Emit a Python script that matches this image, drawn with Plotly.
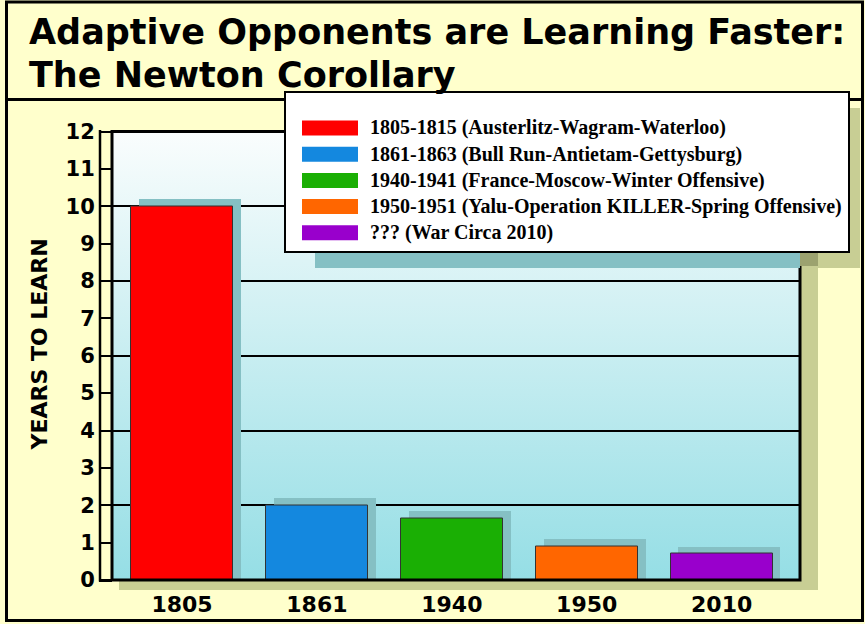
import base64
import plotly.graph_objects as go

W, H = 865, 624

# ---- data -------------------------------------------------------------
CATEGORIES = ["1805", "1861", "1940", "1950", "2010"]
YEARS_TO_LEARN = [10, 2, 1.65, 0.9, 0.7]
BAR_COLORS = ["#FF0000", "#1488DF", "#1AAF04", "#FF6600", "#9900CC"]
SERIES_LABELS = [
    "1805-1815 (Austerlitz-Wagram-Waterloo)",
    "1861-1863 (Bull Run-Antietam-Gettysburg)",
    "1940-1941 (France-Moscow-Winter Offensive)",
    "1950-1951 (Yalu-Operation KILLER-Spring Offensive)",
    "??? (War Circa 2010)",
]
Y_TICKS = list(range(0, 13))
GRID_LINES = [2, 4, 6, 8, 10]
TITLE_LINES = ["Adaptive Opponents are Learning Faster:", "The Newton Corollary"]
Y_TITLE = "YEARS TO LEARN"

# ---- styling ----------------------------------------------------------
BG = "#FFFFCC"
TAN = "#C8CE94"
TAN_DARK = "#9CA26F"
TEAL = "#85C0C4"
BAR_WIDTH = 0.756
SHADOW_DX = 0.058   # category units
SHADOW_DY = 0.2     # value units
HEAVY = dict(family="DejaVu Sans", color="black", weight="bold")

# plot area in pixels
PL, PR, PT, PB = 112, 800, 131.5, 580


def px(x):
    return x / W


def py(y):
    return 1 - y / H


def rect(x0, y0, x1, y1, fill, line_color=None, line_width=0, layer="below"):
    return dict(type="rect", xref="paper", yref="paper",
                x0=px(x0), x1=px(x1), y0=py(y1), y1=py(y0),
                fillcolor=fill, layer=layer,
                line=dict(color=line_color or "rgba(0,0,0,0)", width=line_width))


def hline(x0, x1, y, width, layer="below"):
    return dict(type="line", xref="paper", yref="paper",
                x0=px(x0), x1=px(x1), y0=py(y), y1=py(y), layer=layer,
                line=dict(color="black", width=width))


def vline(x, y0, y1, width, layer="below"):
    return dict(type="line", xref="paper", yref="paper",
                x0=px(x), x1=px(x), y0=py(y0), y1=py(y1), layer=layer,
                line=dict(color="black", width=width))


fig = go.Figure()

# drop shadows behind each bar (base axis, drawn first)
fig.add_trace(go.Bar(
    x=CATEGORIES, y=[v + SHADOW_DY for v in YEARS_TO_LEARN],
    width=BAR_WIDTH, offset=-BAR_WIDTH / 2 + SHADOW_DX,
    marker=dict(color=TEAL, line=dict(width=0)),
    hoverinfo="skip", showlegend=False, yaxis="y",
))
# the bars themselves, on the overlaying axis so they sit above the shadows
fig.add_trace(go.Bar(
    x=CATEGORIES, y=YEARS_TO_LEARN, width=BAR_WIDTH,
    marker=dict(color=BAR_COLORS, line=dict(color="#333333", width=1)),
    hoverinfo="skip", showlegend=False, yaxis="y2",
))

# vertical gradient for the plotting area
svg = ('<svg xmlns="http://www.w3.org/2000/svg" width="10" height="100" '
       'viewBox="0 0 10 100" preserveAspectRatio="none"><defs>'
       '<linearGradient id="g" x1="0" y1="0" x2="0" y2="1">'
       '<stop offset="0" stop-color="#FAFDFD"/>'
       '<stop offset="1" stop-color="#95DEE5"/></linearGradient></defs>'
       '<rect width="10" height="100" fill="url(#g)"/></svg>')
grad_src = "data:image/svg+xml;base64," + base64.b64encode(svg.encode()).decode()

x_lo = -0.519
x_hi = 4.581

shapes = [
    # shadow under the plotting area
    rect(119, 141, 818, 590, TAN),
    # title separator
    hline(5, 862, 99.5, 3),
    # left "wall" line and the base that joins it
    vline(100, 130, 581.5, 2.5),
    hline(99, PL, 580.5, 3),
]
# plotting-area border
shapes.append(dict(type="rect", xref="paper", yref="paper",
                   x0=px(PL), x1=px(PR), y0=py(PB), y1=py(PT), layer="above",
                   line=dict(color="black", width=3)))
# legend drop shadow
shapes += [
    rect(315, 252, 800, 268, TEAL, layer="above"),
    rect(800, 252, 818, 266, TAN_DARK, layer="above"),
    rect(818, 108, 860, 268, TAN, layer="above"),
]
# legend box
shapes.append(rect(285, 92, 849, 252, "white", "black", 2, layer="above"))

annotations = []
row0, row_gap = 128, 26.2
for i, (lab, col) in enumerate(zip(SERIES_LABELS, BAR_COLORS)):
    cy = row0 + i * row_gap
    shapes.append(rect(302, cy - 7.5, 358, cy + 7.5, col, layer="above"))
    annotations.append(dict(
        xref="paper", yref="paper", x=px(368), y=py(cy),
        xanchor="left", yanchor="middle", text=lab, showarrow=False,
        font=dict(family="Liberation Serif", size=20, color="black", weight="bold"),
    ))

# outer frame
shapes.append(rect(6.5, 2, 862.5, 620.5, "rgba(0,0,0,0)", "black", 3, layer="above"))

# title lines
title_size = 35
for txt, base in zip(TITLE_LINES, [44, 87]):
    annotations.append(dict(
        xref="paper", yref="paper", x=px(27), y=py(base - 0.346 * title_size),
        xanchor="left", yanchor="middle", text=txt, showarrow=False,
        font=dict(HEAVY, size=title_size),
    ))

# y-axis title
annotations.append(dict(
    xref="paper", yref="paper", x=px(39), y=py(344.5),
    xanchor="center", yanchor="middle", text=Y_TITLE, textangle=-90,
    showarrow=False, font=dict(HEAVY, size=22),
))

fig.update_layout(
    width=W, height=H,
    margin=dict(l=0, r=0, t=0, b=0, autoexpand=False),
    paper_bgcolor=BG, plot_bgcolor="rgba(0,0,0,0)",
    barmode="overlay", bargap=0,
    showlegend=False,
    shapes=shapes, annotations=annotations,
    images=[dict(source=grad_src, xref="x", yref="y", x=x_lo, y=12,
                 sizex=x_hi - x_lo, sizey=12, xanchor="left", yanchor="top",
                 sizing="stretch", layer="below")],
    xaxis=dict(
        domain=[px(PL), px(PR)], type="category", range=[x_lo, x_hi],
        showgrid=False, zeroline=False, showline=False, automargin=False,
        ticks="outside", ticklen=5, tickcolor="rgba(0,0,0,0)",
        tickfont=dict(HEAVY, size=22), fixedrange=True,
    ),
    # base axis: carries the rules every two years, no labels
    yaxis=dict(
        domain=[py(PB), py(PT)], range=[0, 12], automargin=False,
        tickvals=GRID_LINES, showticklabels=False, ticks="",
        showgrid=True, gridcolor="black", gridwidth=2.2,
        zeroline=False, showline=False, fixedrange=True,
    ),
    # overlaying axis: yearly ticks and labels
    yaxis2=dict(
        overlaying="y", side="left", anchor="x", range=[0, 12], automargin=False,
        tickvals=Y_TICKS, showgrid=False, zeroline=False, showline=False,
        ticks="outside", ticklen=12, tickwidth=2, tickcolor="black",
        tickfont=dict(HEAVY, size=21), fixedrange=True,
    ),
)

fig.write_html("out.html")
